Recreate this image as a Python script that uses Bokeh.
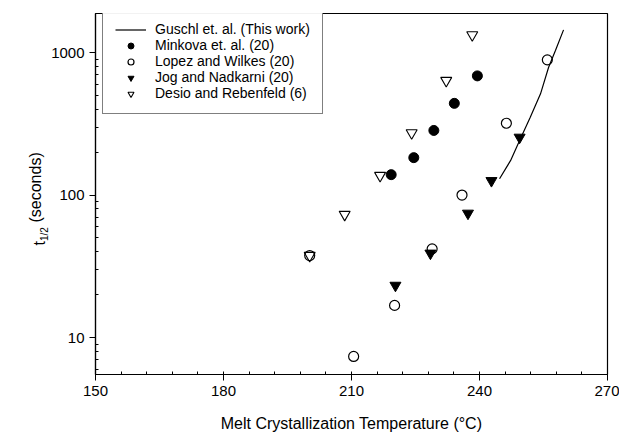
import math
from bokeh.plotting import figure
from bokeh.models import Range1d, FixedTicker, PrintfTickFormatter, Legend, LegendItem, Label
from bokeh.embed import file_html
from bokeh.resources import INLINE

# ---- data ----
gus_T = [244.7, 247.3, 249.4, 251.9, 254.3, 256.2, 257.8, 259.7]
gus_t = [130, 175, 241, 351, 513, 789, 1033, 1443]

min_T = [219.3, 224.6, 229.3, 234.1, 239.5]
min_t = [139, 183, 284, 440, 686]

lop_T = [200.2, 210.5, 220.1, 228.9, 235.9, 246.3, 255.9]
lop_t = [37.6, 7.36, 16.8, 41.9, 100, 319, 889]

jog_T = [220.3, 228.5, 237.3, 242.8, 249.4]
jog_t = [23.2, 39, 74.4, 126, 254]

des_T = [200.2, 208.4, 216.7, 224.1, 232.2, 238.3]
des_t = [37.6, 73, 137, 273, 636, 1331]

x_ticks = [150, 180, 210, 240, 270]
y_ticks = [10, 100, 1000]

FONT = "Liberation Sans"

p = figure(width=619, height=435, output_backend="svg", toolbar_location=None,
           x_range=Range1d(150, 270), y_range=Range1d(5.5, 1880), y_axis_type="log",
           min_border_left=95, min_border_right=12, min_border_top=13, min_border_bottom=61)
p.background_fill_color = "white"
p.border_fill_color = "white"
p.outline_line_color = "black"
p.outline_line_width = 1.2
p.xgrid.visible = False
p.ygrid.visible = False

# x axis
p.xaxis.ticker = FixedTicker(ticks=x_ticks, minor_ticks=list(range(150, 271, 6)))
p.xaxis.axis_label = "Melt Crystallization Temperature (°C)"
p.xaxis.axis_label_text_font = FONT
p.xaxis.axis_label_text_font_size = "16px"
p.xaxis.axis_label_text_font_style = "normal"
p.xaxis.axis_label_standoff = 16
# y axis
minor_y = [m * 10 ** e for e in range(0, 4) for m in range(2, 10)]
p.yaxis.ticker = FixedTicker(ticks=y_ticks, minor_ticks=minor_y)
p.yaxis.formatter = PrintfTickFormatter(format="%d")
for ax in (p.xaxis, p.yaxis):
    ax.major_label_text_font = FONT
    ax.major_label_text_font_size = "15px"
    ax.major_label_text_color = "black"
    ax.axis_line_color = "black"
    ax.axis_line_width = 1.2
    ax.major_tick_line_color = "black"
    ax.minor_tick_line_color = "black"
    ax.major_tick_out = 6
    ax.major_tick_in = 0
    ax.minor_tick_out = 0
    ax.minor_tick_in = 3
    ax.major_label_standoff = 5
    ax.axis_label_text_color = "black"

# ---- series ----
r_gus = p.line(gus_T, gus_t, line_color="black", line_width=1.2)
r_min = p.scatter(min_T, min_t, marker="circle", size=10, fill_color="black", line_color="black")
r_lop = p.scatter(lop_T, lop_t, marker="circle", size=10, fill_color=None, line_color="black", line_width=1.2)
r_jog = p.scatter(jog_T, jog_t, marker="inverted_triangle", size=11, fill_color="black", line_color="black")
r_des = p.scatter(des_T, des_t, marker="inverted_triangle", size=11, fill_color=None, line_color="black", line_width=1.1)

legend = Legend(items=[
    LegendItem(label="Guschl et. al. (This work)", renderers=[r_gus]),
    LegendItem(label="Minkova et. al. (20)", renderers=[r_min]),
    LegendItem(label="Lopez and Wilkes (20)", renderers=[r_lop]),
    LegendItem(label="Jog and Nadkarni (20)", renderers=[r_jog]),
    LegendItem(label="Desio and Rebenfeld (6)", renderers=[r_des]),
])
legend.location = (7, 260)
legend.margin = 0
legend.padding = 12
legend.spacing = 0
legend.label_height = 15
legend.glyph_height = 15
legend.glyph_width = 31
legend.label_standoff = 9
legend.label_text_font = FONT
legend.label_text_font_size = "14px"
legend.label_text_color = "black"
legend.border_line_color = "black"
legend.border_line_width = 1.2
p.add_layout(legend)

# ---- y axis title with subscript, placed in the left panel ----
# (each label in a side panel gets its own slot, so x is compensated per slot)
ys = 129   # from frame bottom
p.add_layout(Label(x=8, y=ys, x_units="screen", y_units="screen", text="t", angle=math.pi / 2,
                   text_font=FONT, text_font_size="16px", text_align="left", text_baseline="alphabetic",
                   text_color="black"), "left")
p.add_layout(Label(x=24, y=ys + 4.5, x_units="screen", y_units="screen", text="1/2", angle=math.pi / 2,
                   text_font=FONT, text_font_size="10px", text_align="left", text_baseline="alphabetic",
                   text_color="black"), "left")
p.add_layout(Label(x=32, y=ys + 23, x_units="screen", y_units="screen", text="(seconds)", angle=math.pi / 2,
                   text_font=FONT, text_font_size="16px", text_align="left", text_baseline="alphabetic",
                   text_color="black"), "left")

open("out.html", "w").write(file_html(p, INLINE))
